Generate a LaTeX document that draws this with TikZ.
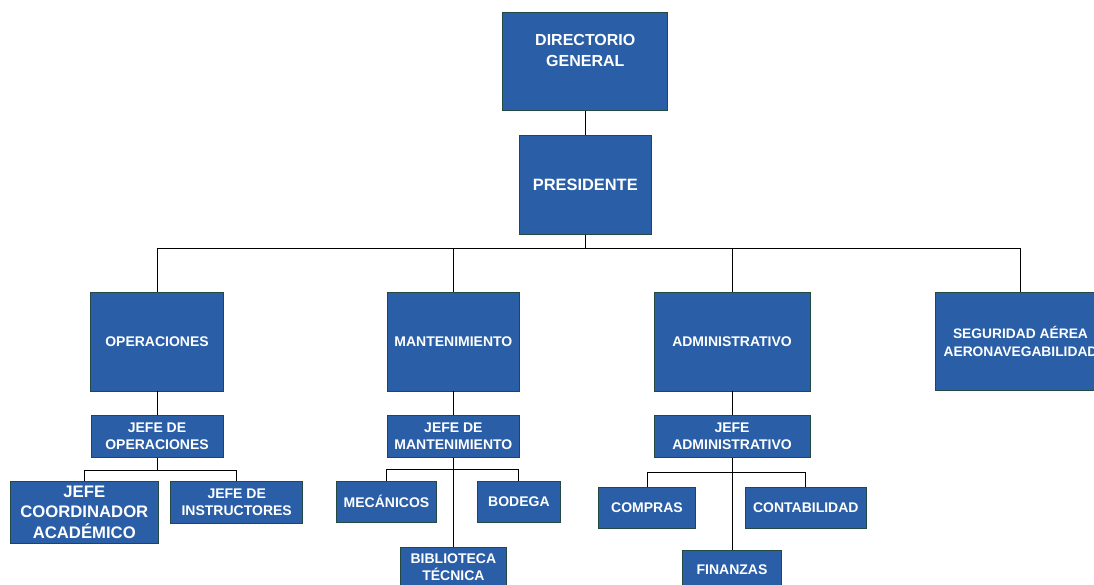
\documentclass[tikz,border=0pt]{standalone}
\usepackage{fontspec}
\setmainfont{Liberation Sans}
\definecolor{boxfill}{RGB}{42,94,166}
\definecolor{boxline}{RGB}{34,74,66}
\tikzset{
  orgbox/.style={draw=boxline, fill=boxfill, line width=0.9pt, text=white,
    font=\fontsize{14}{16.7}\selectfont\bfseries, align=center, inner sep=0pt},
  boxtext/.style={text=white, align=center, inner sep=0pt},
  link/.style={draw=black, line width=0.9pt},
}
\begin{document}
\begin{tikzpicture}[x=1pt, y=-1pt]
\useasboundingbox (0,0) rectangle (1094,585);
\clip (0,0) rectangle (1094,585);
\fill[white] (0,0) rectangle (1094,585);

% level 0 / 1
\node[orgbox, minimum width=165pt, minimum height=98.4pt] (dg) at (585.3,61.5) {};
\node[boxtext, font=\fontsize{16}{20.7}\selectfont\bfseries] (dgtext) at (585.3,50.8) {DIRECTORIO\\GENERAL};
\node[orgbox, minimum width=132.4pt, minimum height=99.3pt, font=\fontsize{16.4}{20}\selectfont\bfseries] (pres) at (585.3,184.7) {PRESIDENTE};

% level 2
\node[orgbox, minimum width=132.6pt, minimum height=99pt] (ops) at (157,341.5) {OPERACIONES};
\node[orgbox, minimum width=131.6pt, minimum height=99pt] (mant) at (453.4,341.5) {MANTENIMIENTO};
\node[orgbox, minimum width=156pt, minimum height=99pt] (adm) at (732,341.5) {ADMINISTRATIVO};
\node[orgbox, minimum width=171pt, minimum height=98pt, font=\fontsize{13.8}{18}\selectfont\bfseries] (seg) at (1020.5,341.3) {SEGURIDAD AÉREA\\AERONAVEGABILIDAD};

% level 3
\node[orgbox, minimum width=132pt, minimum height=41.7pt] (jop) at (157,436.2) {JEFE DE\\OPERACIONES};
\node[orgbox, minimum width=131.6pt, minimum height=41.7pt] (jmant) at (453.4,436.2) {JEFE DE\\MANTENIMIENTO};
\node[orgbox, minimum width=156pt, minimum height=41.7pt] (jadm) at (732,436.2) {JEFE\\ADMINISTRATIVO};

% level 4 - operaciones
\node[orgbox, minimum width=148.7pt, minimum height=62pt, font=\fontsize{16.7}{20.5}\selectfont\bfseries] (jca) at (84.3,512.3) {JEFE\\COORDINADOR\\ACADÉMICO};
\node[orgbox, minimum width=132pt, minimum height=41.7pt] (jins) at (236.7,502.2) {JEFE DE\\INSTRUCTORES};

% level 4 - mantenimiento
\node[orgbox, minimum width=100.4pt, minimum height=41pt] (mec) at (386.5,501.8) {MECÁNICOS};
\node[orgbox, minimum width=82.3pt, minimum height=41pt] (bod) at (518.9,501.8) {BODEGA};
\node[orgbox, minimum width=106pt, minimum height=39.7pt] (bib) at (453.4,567.2) {BIBLIOTECA\\TÉCNICA};

% level 4 - administrativo
\node[orgbox, minimum width=97.4pt, minimum height=41pt] (comp) at (647,507.8) {COMPRAS};
\node[orgbox, minimum width=121.7pt, minimum height=41pt] (cont) at (805.8,507.8) {CONTABILIDAD};
\node[orgbox, minimum width=99pt, minimum height=40pt] (fin) at (732,570) {FINANZAS};

% connectors
\draw[link] (dg.south) -- (pres.north);
\draw[link] (pres.south) -- ++(0,14) -| (ops.north);
\draw[link] (pres.south) -- ++(0,14) -| (mant.north);
\draw[link] (pres.south) -- ++(0,14) -| (adm.north);
\draw[link] (pres.south) -- ++(0,14) -| (seg.north);

\draw[link] (ops.south) -- (jop.north);
\draw[link] (mant.south) -- (jmant.north);
\draw[link] (adm.south) -- (jadm.north);

\draw[link] (jop.south) -- ++(0,12.6) -| (jca.north);
\draw[link] (jop.south) -- ++(0,12.6) -| (jins.north);

\draw[link] (jmant.south) -- ++(0,12) -| (mec.north);
\draw[link] (jmant.south) -- ++(0,12) -| (bod.north);
\draw[link] (jmant.south) -- (bib.north);

\draw[link] (jadm.south) -- ++(0,15) -| (comp.north);
\draw[link] (jadm.south) -- ++(0,15) -| (cont.north);
\draw[link] (jadm.south) -- (fin.north);
\end{tikzpicture}
\end{document}
